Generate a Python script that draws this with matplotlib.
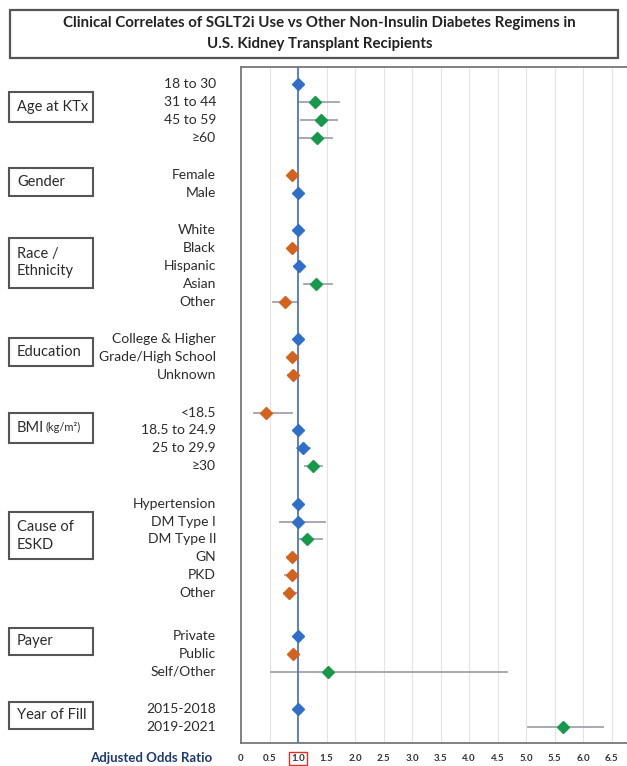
import matplotlib.pyplot as plt
from matplotlib.patches import Rectangle
from matplotlib.transforms import blended_transform_factory

plt.rcParams['font.family'] = ['Lato', 'DejaVu Sans']

# ---- data ----
groups = ['Age at KTx', 'Gender', 'Race /\nEthnicity', 'Education', 'BMI',
          'Cause of\nESKD', 'Payer', 'Year of Fill']
row_labels = [
    ['18 to 30', '31 to 44', '45 to 59', '≥60'],
    ['Female', 'Male'],
    ['White', 'Black', 'Hispanic', 'Asian', 'Other'],
    ['College & Higher', 'Grade/High School', 'Unknown'],
    ['<18.5', '18.5 to 24.9', '25 to 29.9', '≥30'],
    ['Hypertension', 'DM Type I', 'DM Type II', 'GN', 'PKD', 'Other'],
    ['Private', 'Public', 'Self/Other'],
    ['2015-2018', '2019-2021'],
]
aor = [
    [1.0, 1.30, 1.40, 1.34],
    [0.89, 1.0],
    [1.0, 0.89, 1.01, 1.32, 0.77],
    [1.0, 0.89, 0.92],
    [0.44, 1.0, 1.08, 1.26],
    [1.0, 1.0, 1.15, 0.90, 0.90, 0.85],
    [1.0, 0.92, 1.53],
    [1.0, 5.65],
]
ci_low = [
    [1.0, 1.02, 1.06, 1.02],
    [0.85, 1.0],
    [1.0, 0.84, 0.93, 1.10, 0.56],
    [1.0, 0.85, 0.82],
    [0.23, 1.0, 0.98, 1.12],
    [1.0, 0.68, 1.02, 0.80, 0.78, 0.75],
    [1.0, 0.85, 0.52],
    [1.0, 5.04],
]
ci_high = [
    [1.0, 1.72, 1.68, 1.59],
    [0.94, 1.0],
    [1.0, 0.95, 1.10, 1.59, 0.98],
    [1.0, 0.94, 0.98],
    [0.89, 1.0, 1.21, 1.42],
    [1.0, 1.47, 1.42, 0.98, 0.99, 0.98],
    [1.0, 0.98, 4.66],
    [1.0, 6.35],
]
# marker colour as printed: 1 = higher odds, -1 = lower odds, 0 = reference / n.s.
effect = [
    [0, 1, 1, 1],
    [-1, 0],
    [0, -1, 0, 1, -1],
    [0, -1, -1],
    [-1, 0, 0, 1],
    [0, 0, 1, -1, -1, -1],
    [0, -1, 1],
    [0, 1],
]
xticks = [0, 0.5, 1.0, 1.5, 2.0, 2.5, 3.0, 3.5, 4.0, 4.5, 5.0, 5.5, 6.0, 6.5]
xtick_labels = ['0', '0.5', '1.0', '1.5', '2.0', '2.5', '3.0', '3.5', '4.0',
                '4.5', '5.0', '5.5', '6.0', '6.5']

# layout: blank space before each group, and where the label box sits
group_gap = [0, 1.1, 1.1, 1.1, 1.1, 1.1, 1.4, 1.1]
box_offset = [1.3, 0.4, 1.8, 0.7, 0.85, 1.8, 0.3, 0.35]
box_height = [1.65, 1.6, 2.8, 1.55, 1.7, 2.65, 1.5, 1.5]

colours = {0: '#2f6fc9', -1: '#d4611c', 1: '#17994b'}

fig = plt.figure(figsize=(6.27, 7.66), dpi=100)
ax = fig.add_axes([241 / 627, 23 / 766, 1 - 241 / 627, (743 - 67) / 766])

# title box
fig.patches.append(Rectangle((10 / 627, 1 - 58 / 766), 608 / 627, 48 / 766,
                             transform=fig.transFigure, fill=False,
                             edgecolor='#555555', lw=1.6))
fig.text(0.51, 1 - 23 / 766, 'Clinical Correlates of SGLT2i Use vs Other Non-Insulin Diabetes Regimens in',
         ha='center', va='center', fontsize=10.8, fontweight='bold', color='#222222')
fig.text(0.51, 1 - 44 / 766, 'U.S. Kidney Transplant Recipients',
         ha='center', va='center', fontsize=10.8, fontweight='bold', color='#222222')

trans = blended_transform_factory(fig.transFigure, ax.transData)

y = -1.0
for g, name in enumerate(groups):
    y += group_gap[g]
    ys = []
    for i, lab in enumerate(row_labels[g]):
        y += 1
        ys.append(y)
        lo, hi, v = ci_low[g][i], ci_high[g][i], aor[g][i]
        if hi > lo:
            ax.plot([lo, hi], [y, y], color='#a3a0ab', lw=1.3, zorder=3)
        ax.plot(v, y, marker='D', ms=6, color=colours[effect[g][i]], zorder=5)
        ax.text(216 / 627, y, lab, transform=trans, ha='right', va='center',
                fontsize=10, color='#2b2b2b')
    # group label box
    yc = ys[0] + box_offset[g]
    h = box_height[g]
    ax.add_patch(Rectangle((9 / 627, yc - h / 2), 84 / 627, h, transform=trans,
                           fill=False, edgecolor='#555555', lw=1.5, clip_on=False))
    if name == 'BMI':
        ax.text(17 / 627, yc, 'BMI', transform=trans, ha='left', va='center',
                fontsize=10.5, color='#2b2b2b')
        ax.text(46 / 627, yc, '(kg/m²)', transform=trans, ha='left', va='center',
                fontsize=8, color='#2b2b2b')
    else:
        ax.text(17 / 627, yc, name, transform=trans, ha='left', va='center',
                fontsize=10.5, color='#2b2b2b', linespacing=1.35)

last = y
ax.set_ylim(last + 0.9, -0.95)
ax.set_xlim(0, 6.77)

# reference line and faint grid
ax.axvline(1.0, color='#4f74cc', lw=1.3, zorder=4)
for t in xticks[1:]:
    if t != 1.0:
        ax.axvline(t, color='#e3e3e3', lw=0.8, zorder=1)

ax.set_yticks([])
ax.set_xticks(xticks)
ax.set_xticklabels(xtick_labels, fontsize=7, fontweight='bold', color='#333333')
ax.tick_params(axis='x', length=0, pad=8)
for lbl in ax.get_xticklabels():
    if lbl.get_text() == '1.0':
        lbl.set_bbox(dict(facecolor='none', edgecolor='#e03020', lw=1.0, pad=1.5))

for s in ['left', 'top', 'bottom']:
    ax.spines[s].set_color('#777777')
    ax.spines[s].set_linewidth(1.3)
ax.spines['right'].set_visible(False)

fig.text(212 / 627, 1 - 758 / 766, 'Adjusted Odds Ratio', ha='right', va='center',
         fontsize=9.5, fontweight='bold', color='#1f3a73')

fig.savefig('out.png', dpi=100)
